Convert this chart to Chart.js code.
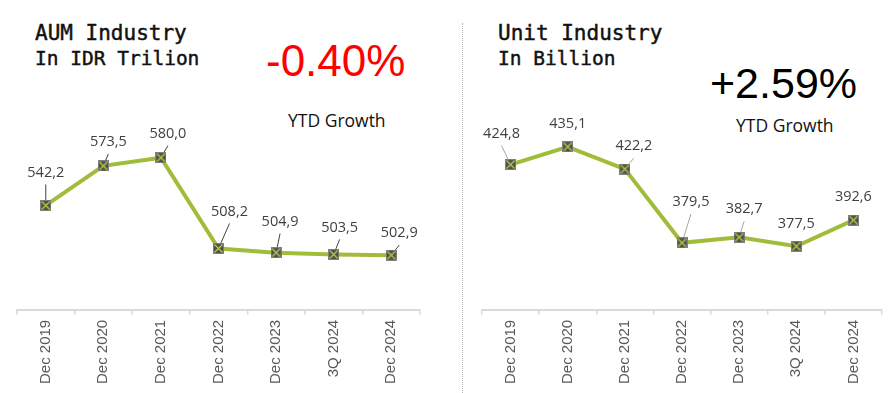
<!DOCTYPE html>
<html>
<head>
<meta charset="utf-8">
<script src="https://cdn.jsdelivr.net/npm/chart.js@4/dist/chart.umd.min.js"></script>
<style>
  html, body { margin: 0; padding: 0; background: #fff; }
  #wrap { position: relative; width: 895px; height: 393px; overflow: hidden; }
  .t1, .t2, .big, .ytd { position: absolute; white-space: nowrap; margin: 0; line-height: 1; }
  .t1 { font: 21px "DejaVu Sans Mono", monospace; color: #111; -webkit-text-stroke: 0.45px #111; }
  .t2 { font: 19.5px "DejaVu Sans Mono", monospace; color: #111; -webkit-text-stroke: 0.45px #111; }
  .big { font: 44px "Liberation Sans", Arial, sans-serif; }
  .ytd { font: 17.5px "Open Sans", sans-serif; color: #111; }
  #sep { position: absolute; left: 462px; top: 23px; height: 370px; border-left: 1px dotted #b8b8b8; }
  canvas { position: absolute; top: 0; }
</style>
</head>
<body>
<div id="wrap">
  <div class="t1" style="left:35px; top:21px;">AUM Industry</div>
  <div class="t2" style="left:35px; top:47px;">In IDR Trilion</div>
  <div class="big" style="left:266px; top:36px; color:#ff0000;">-0.40%</div>
  <div class="ytd" style="left:288px; top:108px;">YTD Growth</div>

  <div id="sep"></div>

  <div class="t1" style="left:498px; top:21px;">Unit Industry</div>
  <div class="t2" style="left:498px; top:47px;">In Billion</div>
  <div class="big" style="left:710px; top:59px; color:#000; font-size:43px;">+2.59%</div>
  <div class="ytd" style="left:736px; top:113px;">YTD Growth</div>

  <canvas id="aum" width="445" height="393" style="left:0;"></canvas>
  <canvas id="unit" width="433" height="393" style="left:462px;"></canvas>
</div>

<script>
"use strict";

// ── Data ─────────────────────────────────────────────────────────────────────
const PERIODS = ["Dec 2019", "Dec 2020", "Dec 2021", "Dec 2022", "Dec 2023", "3Q 2024", "Dec 2024"];
const AUM_VALUES  = [542.2, 573.5, 580.0, 508.2, 504.9, 503.5, 502.9];
const UNIT_VALUES = [424.8, 435.1, 422.2, 379.5, 382.7, 377.5, 392.6];

// Label placement (px from the point to the label centre) and leader on/off
const AUM_LABEL_POS  = [[0, -33], [5, -24], [7, -24], [11, -37], [4, -31], [6, -27], [8, -22]];
const AUM_LEADERS    = [true, true, true, true, true, true, true];
const UNIT_LABEL_POS = [[-9, -31], [0, -23], [9, -23], [9, -41], [5, -28], [0, -22], [0, -23]];
const UNIT_LEADERS   = [true, false, true, true, true, false, false];

const LINE_GREEN = "#a0bd3a";

// ── Marker: dark square with a green cross ──
function makeMarker() {
  const c = document.createElement("canvas");
  c.width = 11; c.height = 11;
  const g = c.getContext("2d");
  g.fillStyle = "#505050";
  g.fillRect(0, 0, 11, 11);
  g.strokeStyle = "#7f7f7f";
  g.lineWidth = 1;
  g.strokeRect(0.5, 0.5, 10, 10);
  g.strokeStyle = "#b5d23c";
  g.lineWidth = 1.2;
  g.beginPath();
  g.moveTo(1.5, 1.5); g.lineTo(9.5, 9.5);
  g.moveTo(9.5, 1.5); g.lineTo(1.5, 9.5);
  g.stroke();
  return c;
}
const MARKER = makeMarker();

// ── Data labels with leader lines ──
const labelPlugin = {
  id: "valueLabels",
  beforeDatasetsDraw(chart, args, opts) {
    const ctx = chart.ctx;
    const pts = chart.getDatasetMeta(0).data;
    ctx.save();
    ctx.strokeStyle = opts.leaderColor;
    ctx.lineWidth = 1;
    pts.forEach((p, i) => {
      if (!opts.leaders[i]) return;
      const [dx, dy] = opts.pos[i];
      ctx.beginPath();
      ctx.moveTo(p.x + dx, p.y + dy + 12);
      ctx.lineTo(p.x, p.y);
      ctx.stroke();
    });
    ctx.restore();
  },
  afterDatasetsDraw(chart, args, opts) {
    const ctx = chart.ctx;
    const pts = chart.getDatasetMeta(0).data;
    const vals = chart.data.datasets[0].data;
    ctx.save();
    ctx.font = '14.5px "Open Sans", sans-serif';
    ctx.fillStyle = "#404040";
    ctx.textAlign = "center";
    ctx.textBaseline = "middle";
    pts.forEach((p, i) => {
      const [dx, dy] = opts.pos[i];
      ctx.fillText(vals[i].toFixed(1).replace(".", ","), p.x + dx, p.y + dy);
    });
    ctx.restore();
  },
};

function buildChart(canvasId, values, yMin, yMax, padLeft, padRight, pos, leaders, leaderColor) {
  return new Chart(document.getElementById(canvasId), {
    type: "line",
    data: {
      labels: PERIODS,
      datasets: [{
        data: values,
        borderColor: LINE_GREEN,
        borderWidth: 4,
        pointStyle: MARKER,
        pointRadius: 5.5,
        tension: 0,
        fill: false,
      }],
    },
    options: {
      responsive: false,
      animation: false,
      layout: { padding: { left: padLeft, right: padRight, top: 100, bottom: 4 } },
      plugins: {
        legend: { display: false },
        tooltip: { enabled: false },
        valueLabels: { pos, leaders, leaderColor },
      },
      scales: {
        x: {
          offset: true,
          grid: { offset: true, drawOnChartArea: false, drawTicks: true, tickLength: 5, color: "#d9d9d9", lineWidth: 1.5 },
          border: { display: true, color: "#d9d9d9", width: 2 },
          ticks: {
            minRotation: 90, maxRotation: 90, padding: 5, autoSkip: false,
            color: "#595959", font: { family: '"Liberation Sans", Arial, sans-serif', size: 15 },
          },
        },
        y: { display: false, min: yMin, max: yMax },
      },
    },
    plugins: [labelPlugin],
  });
}

buildChart("aum",  AUM_VALUES,  459.7, 625.6, 17, 25, AUM_LABEL_POS,  AUM_LEADERS,  "#404040");
buildChart("unit", UNIT_VALUES, 340.7, 462.2, 20, 13, UNIT_LABEL_POS, UNIT_LEADERS, "#a6a6a6");
</script>
</body>
</html>
